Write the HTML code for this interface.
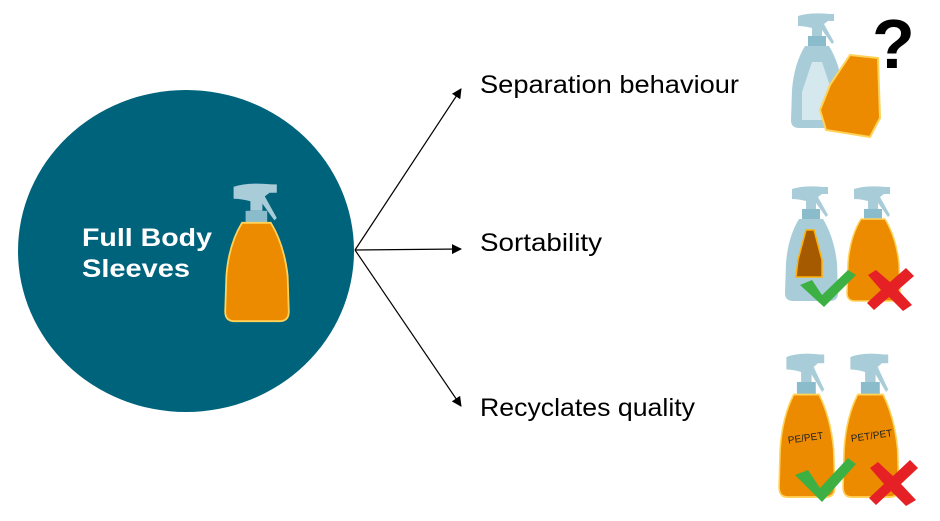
<!DOCTYPE html>
<html><head><style>
body{margin:0;background:#fff;width:940px;height:516px;overflow:hidden;font-family:"Liberation Sans",sans-serif}
</style></head><body>
<svg width="940" height="516" viewBox="0 0 940 516" xmlns="http://www.w3.org/2000/svg">
<defs>
<marker id="ah" markerWidth="10" markerHeight="10" refX="9" refY="5" orient="auto" markerUnits="userSpaceOnUse">
<path d="M0,0 L10,5 L0,10 Z" fill="#000"/></marker>
<g id="head">
<path d="M8,4 Q20,0 40,2 L44,2 L44,9 L38,9 L34,12 L44,30 L42,32 L32,18 L32,24 L22,24 L22,16 Q14,14 8,14 Z" fill="#a9cdd8"/>
<rect x="18" y="24" width="18" height="10" fill="#8bbccb"/>
</g>
<path id="body" d="M15,34 L39,34 Q50,52 53,78 L54,108 Q54,116 46,116 L9,116 Q1,116 1,108 L2,78 Q4,52 15,34 Z"/>
</defs>
<ellipse cx="186" cy="251" rx="168" ry="161" fill="#00637c"/>
<text x="82" y="246" font-family="Liberation Sans" font-weight="bold" font-size="25" fill="#fff" textLength="130" lengthAdjust="spacingAndGlyphs">Full Body</text>
<text x="82" y="277" font-family="Liberation Sans" font-weight="bold" font-size="25" fill="#fff" textLength="108" lengthAdjust="spacingAndGlyphs">Sleeves</text>
<g transform="translate(224,182) scale(1.2,1.2)">
<use href="#head"/><use href="#body" fill="#ed8b00" stroke="#ffd35a" stroke-width="1.5"/></g>
<g stroke="#000" stroke-width="1.2" fill="none">
<line x1="355" y1="250" x2="461" y2="89" marker-end="url(#ah)"/>
<line x1="355" y1="250" x2="461" y2="249" marker-end="url(#ah)"/>
<line x1="355" y1="250" x2="461" y2="406" marker-end="url(#ah)"/>
</g>
<g font-family="Liberation Sans" font-size="25" fill="#000">
<text x="480" y="93" textLength="259" lengthAdjust="spacingAndGlyphs">Separation behaviour</text>
<text x="480" y="251" textLength="122" lengthAdjust="spacingAndGlyphs">Sortability</text>
<text x="480" y="416" textLength="215" lengthAdjust="spacingAndGlyphs">Recyclates quality</text>
</g>
<!-- row 1 -->
<g transform="translate(790,12)">
<use href="#head"/><use href="#body" fill="#a9cdd8"/>
<path d="M22,50 L32,50 L42,80 L42,108 L12,108 L12,80 Z" fill="#d5e8ee"/></g>
<path d="M850,55 L878,58 L880,118 L870,137 L826,130 L820,110 L830,85 Z" fill="#ed8b00" stroke="#ffd35a" stroke-width="2"/>
<text x="872" y="68" font-family="Liberation Sans" font-weight="bold" font-size="70" fill="#000">?</text>
<!-- row 2 -->
<g transform="translate(784,185)">
<use href="#head"/><use href="#body" fill="#a9cdd8"/>
<path d="M22,45 L30,45 L38,75 L38,92 L12,92 L14,75 Z" fill="#a65a00" stroke="#ffb000" stroke-width="1.5"/></g>
<g transform="translate(846,185)">
<use href="#head"/><use href="#body" fill="#ed8b00" stroke="#ffd35a" stroke-width="1.5"/></g>
<path d="M800,285 L812,280 L822,295 L848,270 L856,275 L824,307 Z" fill="#3cb043"/>
<path d="M868,275 L876,270 L890,282 L906,268 L914,276 L898,290 L912,305 L903,311 L889,297 L874,310 L867,303 L881,290 Z" fill="#e52125"/>
<!-- row 3 -->
<g transform="translate(778,352) scale(1.05,1.25)">
<use href="#head"/><use href="#body" fill="#ed8b00" stroke="#ffd35a" stroke-width="1.5"/></g>
<g transform="translate(842,352) scale(1.05,1.25)">
<use href="#head"/><use href="#body" fill="#ed8b00" stroke="#ffd35a" stroke-width="1.5"/></g>
<text x="788" y="442" font-family="Liberation Sans" font-size="10" fill="#222" transform="rotate(-8 800 440)">PE/PET</text>
<text x="851" y="440" font-family="Liberation Sans" font-size="10" fill="#222" transform="rotate(-8 865 438)">PET/PET</text>
<path d="M795,475 L808,470 L820,488 L848,458 L856,464 L822,502 Z" fill="#3cb043"/>
<path d="M870,468 L878,462 L893,476 L910,460 L918,468 L901,484 L916,500 L906,506 L891,491 L876,505 L869,498 L884,484 Z" fill="#e52125"/>
</svg>
</body></html>
